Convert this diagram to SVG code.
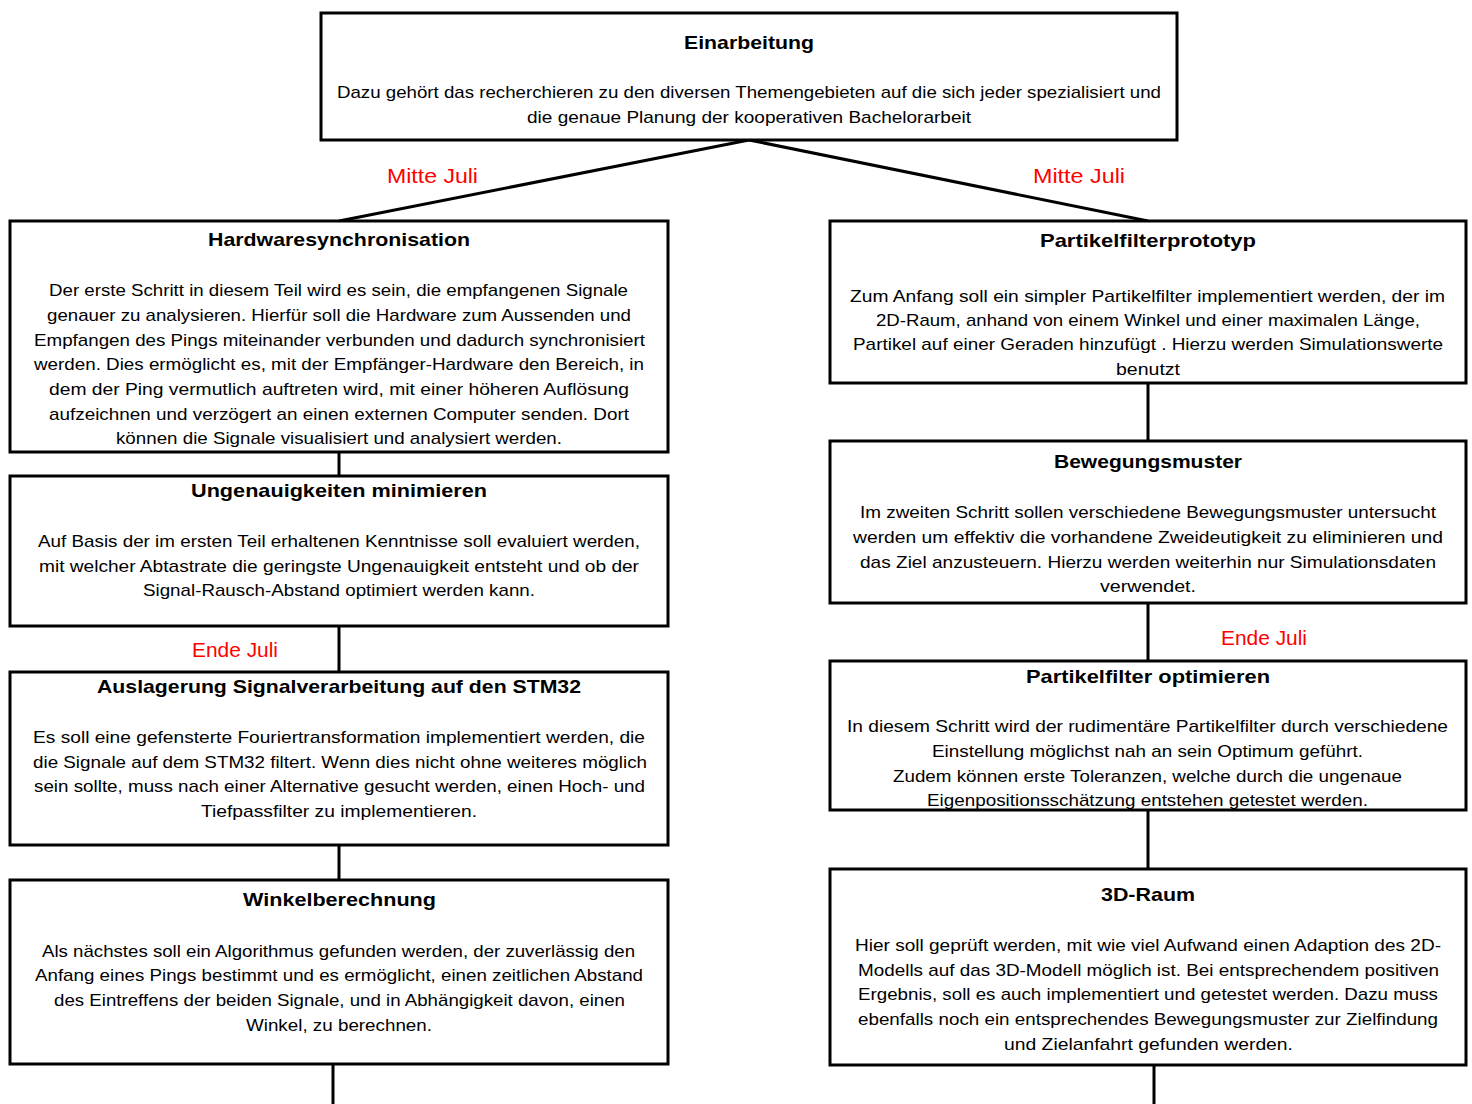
<svg xmlns="http://www.w3.org/2000/svg" width="1472" height="1104" viewBox="0 0 1472 1104">
<style>
.box{fill:#fff;stroke:#000;stroke-width:3}
.con{stroke:#000;stroke-width:3;fill:none}
text{font-family:"Liberation Sans",Arial,sans-serif;fill:#000}
.t{font-size:19px;font-weight:bold}
.b{font-size:17px}
.r{font-size:21px;fill:#ff0000}
</style>
<rect width="1472" height="1104" fill="#fff"/>
<g id="connectors">
<line class="con" x1="749" y1="140" x2="339" y2="221"/>
<line class="con" x1="749" y1="140" x2="1148" y2="221"/>
<line class="con" x1="339" y1="452" x2="339" y2="476"/>
<line class="con" x1="339" y1="626" x2="339" y2="672"/>
<line class="con" x1="339" y1="845" x2="339" y2="880"/>
<line class="con" x1="333" y1="1064" x2="333" y2="1104"/>
<line class="con" x1="1148" y1="383" x2="1148" y2="441"/>
<line class="con" x1="1148" y1="603" x2="1148" y2="661"/>
<line class="con" x1="1148" y1="810" x2="1148" y2="869"/>
<line class="con" x1="1154" y1="1065" x2="1154" y2="1104"/>
<text class="r" x="387" y="183" textLength="91" lengthAdjust="spacingAndGlyphs">Mitte Juli</text>
<text class="r" x="1033" y="183" textLength="92" lengthAdjust="spacingAndGlyphs">Mitte Juli</text>
<text class="r" x="192" y="657" textLength="86" lengthAdjust="spacingAndGlyphs">Ende Juli</text>
<text class="r" x="1221" y="645" textLength="86" lengthAdjust="spacingAndGlyphs">Ende Juli</text>
</g>
<g id="einarbeitung">
<rect class="box" x="321" y="13" width="856" height="127"/>
<text class="t" x="684" y="49" textLength="130" lengthAdjust="spacingAndGlyphs">Einarbeitung</text>
<text class="b" x="337" y="98" textLength="824" lengthAdjust="spacingAndGlyphs">Dazu gehört das recherchieren zu den diversen Themengebieten auf die sich jeder spezialisiert und</text>
<text class="b" x="527" y="123" textLength="444" lengthAdjust="spacingAndGlyphs">die genaue Planung  der kooperativen Bachelorarbeit</text>
</g>
<g id="hardwaresynchronisation">
<rect class="box" x="10" y="221" width="658" height="231"/>
<text class="t" x="208" y="246" textLength="262" lengthAdjust="spacingAndGlyphs">Hardwaresynchronisation</text>
<text class="b" x="49" y="296" textLength="579" lengthAdjust="spacingAndGlyphs">Der erste Schritt in diesem Teil wird es sein, die empfangenen Signale</text>
<text class="b" x="47" y="321" textLength="584" lengthAdjust="spacingAndGlyphs">genauer zu analysieren. Hierfür soll die Hardware zum Aussenden und</text>
<text class="b" x="34" y="346" textLength="611" lengthAdjust="spacingAndGlyphs">Empfangen des Pings miteinander verbunden und dadurch synchronisiert</text>
<text class="b" x="34" y="370" textLength="610" lengthAdjust="spacingAndGlyphs">werden. Dies ermöglicht es, mit der Empfänger-Hardware den Bereich, in</text>
<text class="b" x="49" y="395" textLength="580" lengthAdjust="spacingAndGlyphs">dem der Ping vermutlich auftreten wird, mit einer höheren Auflösung</text>
<text class="b" x="49" y="420" textLength="580" lengthAdjust="spacingAndGlyphs">aufzeichnen und verzögert an einen externen Computer senden. Dort</text>
<text class="b" x="116" y="444" textLength="446" lengthAdjust="spacingAndGlyphs">können die Signale visualisiert und analysiert werden.</text>
</g>
<g id="ungenauigkeiten">
<rect class="box" x="10" y="476" width="658" height="150"/>
<text class="t" x="191" y="497" textLength="296" lengthAdjust="spacingAndGlyphs">Ungenauigkeiten minimieren</text>
<text class="b" x="38" y="547" textLength="602" lengthAdjust="spacingAndGlyphs">Auf Basis der im ersten Teil erhaltenen Kenntnisse soll evaluiert werden,</text>
<text class="b" x="39" y="572" textLength="600" lengthAdjust="spacingAndGlyphs">mit welcher Abtastrate die geringste Ungenauigkeit entsteht und ob der</text>
<text class="b" x="143" y="596" textLength="392" lengthAdjust="spacingAndGlyphs">Signal-Rausch-Abstand optimiert werden kann.</text>
</g>
<g id="auslagerung">
<rect class="box" x="10" y="672" width="658" height="173"/>
<text class="t" x="97" y="693" textLength="484" lengthAdjust="spacingAndGlyphs">Auslagerung Signalverarbeitung auf den STM32</text>
<text class="b" x="33" y="743" textLength="612" lengthAdjust="spacingAndGlyphs">Es soll eine gefensterte Fouriertransformation implementiert werden, die</text>
<text class="b" x="33" y="768" textLength="614" lengthAdjust="spacingAndGlyphs">die Signale auf dem STM32 filtert. Wenn dies nicht ohne weiteres möglich</text>
<text class="b" x="34" y="792" textLength="611" lengthAdjust="spacingAndGlyphs">sein sollte, muss nach einer Alternative gesucht werden, einen Hoch- und</text>
<text class="b" x="201" y="817" textLength="276" lengthAdjust="spacingAndGlyphs">Tiefpassfilter zu implementieren.</text>
</g>
<g id="winkelberechnung">
<rect class="box" x="10" y="880" width="658" height="184"/>
<text class="t" x="243" y="906" textLength="193" lengthAdjust="spacingAndGlyphs">Winkelberechnung</text>
<text class="b" x="42" y="957" textLength="593" lengthAdjust="spacingAndGlyphs">Als nächstes soll ein Algorithmus gefunden werden, der zuverlässig den</text>
<text class="b" x="35" y="981" textLength="608" lengthAdjust="spacingAndGlyphs">Anfang eines Pings bestimmt und es ermöglicht, einen zeitlichen Abstand</text>
<text class="b" x="54" y="1006" textLength="571" lengthAdjust="spacingAndGlyphs">des Eintreffens der beiden Signale, und in Abhängigkeit davon, einen</text>
<text class="b" x="246" y="1031" textLength="186" lengthAdjust="spacingAndGlyphs">Winkel, zu berechnen.</text>
</g>
<g id="partikelfilterprototyp">
<rect class="box" x="830" y="221" width="636" height="162"/>
<text class="t" x="1040" y="247" textLength="216" lengthAdjust="spacingAndGlyphs">Partikelfilterprototyp</text>
<text class="b" x="850" y="302" textLength="595" lengthAdjust="spacingAndGlyphs">Zum Anfang soll ein simpler Partikelfilter implementiert werden, der im</text>
<text class="b" x="876" y="326" textLength="544" lengthAdjust="spacingAndGlyphs">2D-Raum, anhand von einem Winkel und einer maximalen Länge,</text>
<text class="b" x="853" y="350" textLength="590" lengthAdjust="spacingAndGlyphs">Partikel auf einer Geraden hinzufügt . Hierzu werden Simulationswerte</text>
<text class="b" x="1116" y="375" textLength="64" lengthAdjust="spacingAndGlyphs">benutzt</text>
</g>
<g id="bewegungsmuster">
<rect class="box" x="830" y="441" width="636" height="162"/>
<text class="t" x="1054" y="468" textLength="188" lengthAdjust="spacingAndGlyphs">Bewegungsmuster</text>
<text class="b" x="860" y="518" textLength="576" lengthAdjust="spacingAndGlyphs">Im zweiten Schritt sollen verschiedene Bewegungsmuster untersucht</text>
<text class="b" x="853" y="543" textLength="590" lengthAdjust="spacingAndGlyphs">werden um effektiv die vorhandene Zweideutigkeit  zu eliminieren und</text>
<text class="b" x="860" y="568" textLength="576" lengthAdjust="spacingAndGlyphs">das Ziel anzusteuern.  Hierzu werden weiterhin nur Simulationsdaten</text>
<text class="b" x="1100" y="592" textLength="96" lengthAdjust="spacingAndGlyphs">verwendet.</text>
</g>
<g id="partikelfilter-optimieren">
<rect class="box" x="830" y="661" width="636" height="149"/>
<text class="t" x="1026" y="683" textLength="244" lengthAdjust="spacingAndGlyphs">Partikelfilter optimieren</text>
<text class="b" x="847" y="732" textLength="601" lengthAdjust="spacingAndGlyphs">In diesem Schritt wird der rudimentäre Partikelfilter durch verschiedene</text>
<text class="b" x="932" y="757" textLength="431" lengthAdjust="spacingAndGlyphs">Einstellung möglichst nah an sein Optimum geführt.</text>
<text class="b" x="893" y="782" textLength="509" lengthAdjust="spacingAndGlyphs">Zudem können erste Toleranzen, welche durch die ungenaue</text>
<text class="b" x="927" y="806" textLength="441" lengthAdjust="spacingAndGlyphs">Eigenpositionsschätzung entstehen getestet werden.</text>
</g>
<g id="raum3d">
<rect class="box" x="830" y="869" width="636" height="196"/>
<text class="t" x="1101" y="901" textLength="94" lengthAdjust="spacingAndGlyphs">3D-Raum</text>
<text class="b" x="855" y="951" textLength="586" lengthAdjust="spacingAndGlyphs">Hier soll geprüft werden, mit wie viel Aufwand einen Adaption des 2D-</text>
<text class="b" x="858" y="976" textLength="581" lengthAdjust="spacingAndGlyphs">Modells auf das 3D-Modell möglich ist. Bei entsprechendem positiven</text>
<text class="b" x="858" y="1000" textLength="580" lengthAdjust="spacingAndGlyphs">Ergebnis, soll es auch implementiert und getestet werden. Dazu muss</text>
<text class="b" x="858" y="1025" textLength="580" lengthAdjust="spacingAndGlyphs">ebenfalls noch ein entsprechendes Bewegungsmuster zur Zielfindung</text>
<text class="b" x="1004" y="1050" textLength="289" lengthAdjust="spacingAndGlyphs">und Zielanfahrt  gefunden werden.</text>
</g>
</svg>
